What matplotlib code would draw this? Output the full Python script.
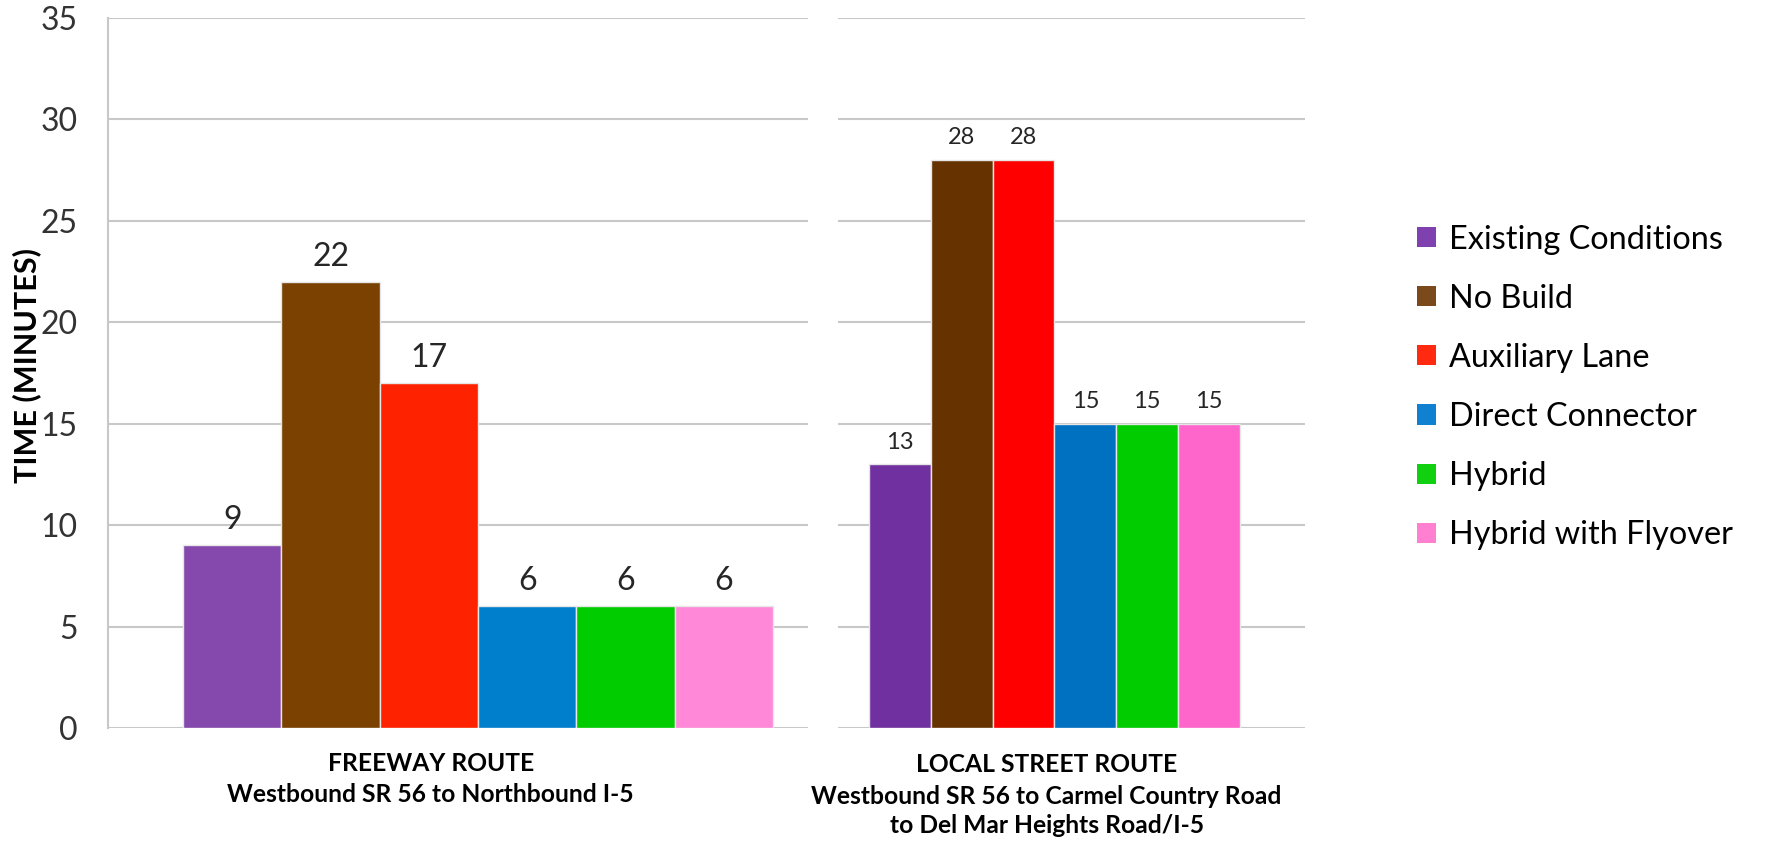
import numpy as np
import matplotlib
matplotlib.use('Agg')
import matplotlib.pyplot as plt
from matplotlib.patches import Patch

plt.rcParams['font.family'] = ['Lato', 'DejaVu Sans']

# Data
scenarios = ['Existing Conditions', 'No Build', 'Auxiliary Lane',
             'Direct Connector', 'Hybrid', 'Hybrid with Flyover']
freeway_times = [9, 22, 17, 6, 6, 6]
local_times = [13, 28, 28, 15, 15, 15]

freeway_label = 'FREEWAY ROUTE'
freeway_sub = 'Westbound SR 56 to Northbound I-5'
local_label = 'LOCAL STREET ROUTE'
local_sub = 'Westbound SR 56 to Carmel Country Road\nto Del Mar Heights Road/I-5'

# colours (the two panels use slightly different shades)
left_colors = ['#8549AD', '#7A4100', '#FF2200', '#0080CC', '#00CC00', '#FF88D8']
right_colors = ['#7030A0', '#663300', '#FF0000', '#0070C0', '#00CC00', '#FF66CC']
legend_colors = ['#7F40B0', '#7A4A1A', '#FF2A10', '#1080D0', '#10D010', '#FF80D0']

yticks = [0, 5, 10, 15, 20, 25, 30, 35]

fig = plt.figure(figsize=(17.66, 8.44), dpi=100)
ax1 = fig.add_axes([0.0612, 0.1374, 0.3964, 0.8412])
ax2 = fig.add_axes([0.4745, 0.1374, 0.2644, 0.8412])

x = np.arange(len(scenarios))
grid_col = '#C8C8C8'


def draw_panel(ax, vals, colors, fs, offset):
    ax.bar(x, vals, width=1.0, color=colors, edgecolor='#E6E6E6',
           linewidth=1.0, zorder=3)
    for xi, v in zip(x, vals):
        ax.annotate(str(v), (xi, v), textcoords='offset points',
                    xytext=(0, offset), ha='center', va='center',
                    fontsize=fs, color='#262626', zorder=4)
    ax.set_ylim(0, 35)
    ax.set_yticks(yticks)
    ax.yaxis.grid(True, color=grid_col, linewidth=1.5, zorder=0)
    ax.set_axisbelow(True)
    ax.set_xticks([])
    for s in ['top', 'right', 'bottom']:
        ax.spines[s].set_visible(False)


draw_panel(ax1, freeway_times, left_colors, 23, 18)
ax1.set_xlim(-1.263, 5.856)
ax1.spines['left'].set_color(grid_col)
ax1.spines['left'].set_linewidth(1.5)
ax1.tick_params(axis='y', length=0, pad=22, labelsize=23, labelcolor='#333333')
ax1.set_ylabel('TIME (MINUTES)', fontsize=22, fontweight='bold')
ax1.yaxis.set_label_coords(-0.095, 0.51)

draw_panel(ax2, local_times, right_colors, 17, 16)
ax2.set_xlim(-1.001, 6.551)
ax2.spines['left'].set_visible(False)
ax2.tick_params(axis='y', length=0, labelleft=False)

# category labels below each panel
ax1.text(0.461, -0.05, freeway_label, transform=ax1.transAxes, ha='center',
         va='center', fontsize=17.7, fontweight='bold')
ax1.text(0.461, -0.094, freeway_sub, transform=ax1.transAxes, ha='center',
         va='center', fontsize=17.7, fontweight='bold')
ax2.text(0.447, -0.052, local_label, transform=ax2.transAxes, ha='center',
         va='center', fontsize=17.7, fontweight='bold')
ax2.text(0.447, -0.117, local_sub, transform=ax2.transAxes, ha='center',
         va='center', fontsize=17.7, fontweight='bold', linespacing=1.3)

# legend
handles = [Patch(facecolor=c, edgecolor='none') for c in legend_colors]
fig.legend(handles, scenarios, loc='upper left', bbox_to_anchor=(0.8024, 0.734),
           frameon=False, fontsize=23.3, handlelength=0.58, handleheight=0.58,
           handletextpad=0.4, labelspacing=0.9, borderpad=0, borderaxespad=0)

plt.savefig('out.png', dpi=100)
